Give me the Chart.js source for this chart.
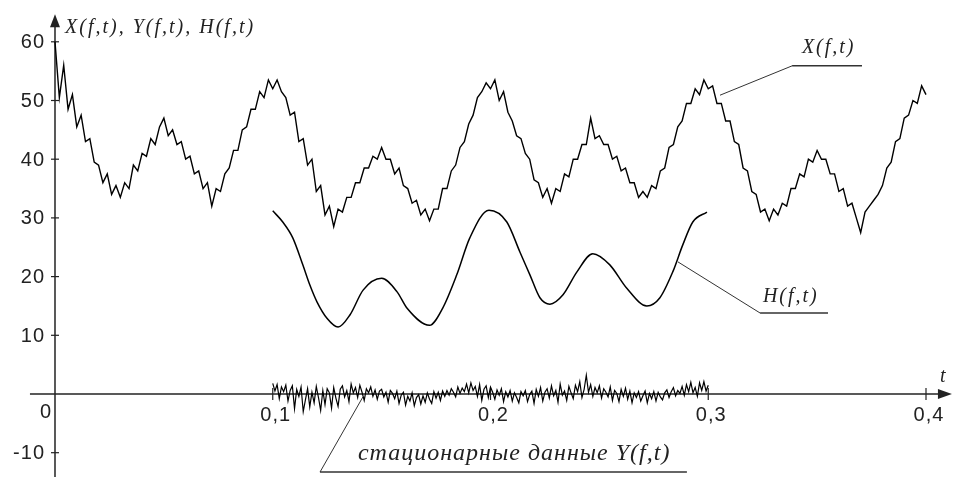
<!DOCTYPE html>
<html>
<head>
<meta charset="utf-8">
<script src="https://cdn.jsdelivr.net/npm/chart.js@4.4.1/dist/chart.umd.min.js"></script>
<style>
  html, body { margin: 0; padding: 0; background: #fff; overflow: hidden; }
</style>
</head>
<body>
<canvas id="chart" width="953" height="477"></canvas>
<script>
// sampled signal X(f,t), one value every 0.002 starting at t = 0
const xStart = 0, xStep = 0.002;
const xValues = [
  60, 50.5, 56, 48.5, 51, 45.5, 47.5, 43, 43.5, 39.5,
  39, 36, 37.5, 34, 35.5, 33.5, 36, 35, 39, 38,
  41, 40.5, 43.5, 42.5, 45.5, 47, 44, 45, 42.5, 43,
  40, 40.5, 37.5, 38, 35, 36, 32, 35, 34.5, 37.5,
  38.5, 41.5, 41.5, 45, 45.5, 48.5, 48.5, 51.5, 50.5, 53.5,
  52, 53.5, 51.5, 50.5, 47.5, 48, 43, 43.5, 39, 40,
  34.5, 35.5, 30.5, 32, 28.5, 31.5, 31, 33.5, 33.5, 36,
  36, 38.5, 38.5, 40.5, 40, 42, 40, 40, 37.5, 38.5,
  35.5, 35, 32.5, 33, 30.5, 31.5, 29.5, 31.5, 31.5, 35,
  35, 38, 39, 42, 43, 46, 47.5, 50.5, 51.5, 53,
  52, 53.5, 50, 51.5, 48, 46.5, 44, 43.5, 41, 40,
  36.5, 36, 33.5, 35, 32.5, 35, 34.5, 37.5, 37, 40,
  40, 42.5, 42.5, 47, 43.5, 44, 42.5, 42.5, 40, 40.5,
  38, 38.5, 36, 36, 33.5, 34.5, 33.5, 35.5, 35, 38,
  38.5, 42, 42.5, 45.5, 46.5, 49.5, 49.5, 52, 51, 53.5,
  52, 52.5, 49.5, 49.5, 46.5, 46.5, 43, 42.5, 38.5, 38,
  34.5, 34, 31, 31.5, 29.5, 31.5, 30.5, 32.5, 32, 35,
  35, 37.5, 37, 40, 39.5, 41.5, 40, 40, 37.5, 37.5,
  34.5, 35, 32, 32.5, 30, 27.5, 31, 32, 33, 34,
  35.5, 38.5, 39.5, 43, 43.5, 47, 47.5, 50, 49.5, 52.5,
  51
];

// stationary part Y(f,t), one value every 0.001 from t = 0.1 to 0.3
const yStart = 0.1, yStep = 0.001;
const yValues = [
  1.8, 0.5, 1.6, -0.8, 1.2, 0.4, 1.5, -1.2, 0.6, 1.4,
  -2.5, 0.8, -0.4, 1.2, -3, -1, 0.9, -2.2, 0.3, -1.5,
  1.3, -0.6, -2.8, 0.6, -1.8, 0.9, 0.2, -2.4, 1.1, -0.7,
  -2.1, 0.8, 1.4, -0.5, 0.6, -1.3, 1.7, 0.2, 1.1, -0.6,
  1.5, 0.3, -1.1, 0.9, 0.2, 1.2, -0.4, 0.7, -0.9, 0.5,
  0.8, -0.5, 0.3, -1.4, 0.6, 0.1, -0.8, 0.5, -1.6, -0.2,
  0.3, -1.9, -0.4, -1.2, 0.2, -2, -0.6, -0.1, -1.7, -0.3,
  -1.4, 0.2, -0.9, -1.6, 0.4, -0.7, 0.3, -1.1, 0.5, -0.4,
  0.6, -0.2, 0.9, 0.3, -0.5, 1.2, 0.1, 1.0, 0.4, 1.7,
  0.2, 1.9, 0.6, 1.3, -0.4, 1.6, -1.1, 0.8, 1.4, -0.6,
  1.2, 0.3, -0.9, 0.7, -0.2, 0.9, -1.3, 0.4, -0.5, 0.6,
  -1.2, 0.2, -0.6, -1.5, 0.4, -0.3, 0.6, -1.3, -0.1, 0.5,
  -1.6, 0.8, -0.4, 1.1, -1.2, 0.3, 0.9, -0.7, 1.4, -0.3,
  0.6, -1.4, 1.7, -0.2, 0.5, -1.1, 1.3, 0.2, -0.8, 1.5,
  0.4, 2.1, -0.6, 0.8, 3.2, 0.3, 1.6, -0.4, 1.1, 0.2,
  1.4, -0.7, 0.9, 0.3, -0.5, 1.2, -1.1, 0.6, 0.1, -1.3,
  0.8, -0.4, 1, -0.9, 0.5, -1.5, 0.2, -0.6, 0.4, -1.2,
  -0.3, 0.5, -1.5, 0.1, -0.8, 0.4, -1.2, 0.3, -0.5, -1,
  0.2, 0.7, -0.6, 0.4, 1.1, -0.3, 0.6, 0.1, 1.3, -0.2,
  1.6, 0.4, 2, 0.2, 1.1, -0.4, 1.9, 0.6, 2.1, 0.5,
  1.5
];

// smooth trend H(f,t)
const hTimes = [
  0.100, 0.1046, 0.1092, 0.1138, 0.117, 0.1203, 0.1249, 0.130, 0.1355, 0.1415,
  0.150, 0.1571, 0.1617, 0.172, 0.178, 0.1845, 0.1905, 0.1993, 0.2075, 0.2135,
  0.2181, 0.2227, 0.2273, 0.2333, 0.2397, 0.247, 0.2548, 0.2626, 0.2718, 0.2778,
  0.2837, 0.2883, 0.2929, 0.2994
];
const hValues = [
  31.2, 29.3, 26.6, 22, 18.6, 15.7, 12.9, 11.4, 13.5, 17.7,
  19.7, 17.4, 14.6, 11.7, 14.6, 20.3, 26.6, 31.3, 29.3, 24.2,
  20.3, 16.4, 15.3, 16.9, 20.8, 23.9, 22, 18, 15, 16.4,
  20.8, 25.4, 29.3, 31
];

const xTicks = [0.1, 0.2, 0.3, 0.4];
const yTicks = [-10, 10, 20, 30, 40, 50, 60];

// callout labels: leader from the curve, elbow, end of underline (data coords)
const callouts = [
  { text: 'X(f,t)', pts: [[0.3054, 50.9], [0.3385, 55.9], [0.3706, 55.9]], at: [0.343, 58.1], size: 20 },
  { text: 'H(f,t)', pts: [[0.2861, 22.5], [0.3238, 13.8], [0.355, 13.8]], at: [0.3251, 15.7], size: 20 },
  { text: 'стационарные данные Y(f,t)', pts: [[0.1414, -0.5], [0.1217, -13.3], [0.2902, -13.3]], at: [0.1391, -11.2], size: 24 }
];

const toPoints = (vals, start, step) => vals.map((v, i) => ({ x: +(start + i * step).toFixed(4), y: v }));

const axesPlugin = {
  id: 'axes',
  beforeDatasetsDraw(chart) {
    const { ctx, scales: { x, y } } = chart;
    const x0 = x.getPixelForValue(0), y0 = y.getPixelForValue(0);
    ctx.save();
    ctx.strokeStyle = '#222';
    ctx.fillStyle = '#222';
    ctx.lineWidth = 1.5;

    // horizontal axis with arrow
    const xl = x.getPixelForValue(-0.0115), xr = x.getPixelForValue(0.4119);
    ctx.beginPath(); ctx.moveTo(xl, y0); ctx.lineTo(xr - 8, y0); ctx.stroke();
    ctx.beginPath(); ctx.moveTo(xr, y0); ctx.lineTo(xr - 14, y0 - 5); ctx.lineTo(xr - 14, y0 + 5); ctx.closePath(); ctx.fill();

    // vertical axis with arrow
    const yt = y.getPixelForValue(64.7), yb = y.bottom;
    ctx.beginPath(); ctx.moveTo(x0, yb); ctx.lineTo(x0, yt + 8); ctx.stroke();
    ctx.beginPath(); ctx.moveTo(x0, yt); ctx.lineTo(x0 - 5, yt + 13); ctx.lineTo(x0 + 5, yt + 13); ctx.closePath(); ctx.fill();

    ctx.lineWidth = 1.2;
    xTicks.forEach(v => {
      const p = x.getPixelForValue(v);
      ctx.beginPath(); ctx.moveTo(p, y0 - 6); ctx.lineTo(p, y0 + 6); ctx.stroke();
    });
    yTicks.forEach(v => {
      const p = y.getPixelForValue(v);
      ctx.beginPath(); ctx.moveTo(x0 - 4, p); ctx.lineTo(x0 + 4, p); ctx.stroke();
    });
    ctx.restore();
  },
  afterDatasetsDraw(chart) {
    const { ctx, scales: { x, y } } = chart;
    const x0 = x.getPixelForValue(0), y0 = y.getPixelForValue(0);
    ctx.save();
    ctx.fillStyle = '#222';

    // tick labels
    ctx.font = "20px 'Liberation Sans'";
    ctx.letterSpacing = '1px';
    ctx.textAlign = 'center';
    ctx.textBaseline = 'top';
    xTicks.forEach(v => {
      ctx.fillText(v.toFixed(1).replace('.', ','), x.getPixelForValue(v) + 3, y0 + 11);
    });
    ctx.textAlign = 'right';
    ctx.textBaseline = 'middle';
    yTicks.forEach(v => ctx.fillText(String(v), x0 - 10, y.getPixelForValue(v) + 1));
    ctx.textAlign = 'center';
    ctx.textBaseline = 'alphabetic';
    ctx.fillText('0', x.getPixelForValue(-0.0041), y.getPixelForValue(-4.1));

    // axis names
    ctx.textAlign = 'left';
    ctx.font = "italic 20px 'Liberation Serif'";
    ctx.letterSpacing = '2px';
    ctx.fillText('X(f,t), Y(f,t), H(f,t)', x.getPixelForValue(0.0046), y.getPixelForValue(61.5));
    ctx.fillText('t', x.getPixelForValue(0.4064), y.getPixelForValue(2.0));

    // callouts
    callouts.forEach(c => {
      const p = c.pts.map(([a, b]) => [x.getPixelForValue(a), y.getPixelForValue(b)]);
      ctx.strokeStyle = '#333';
      ctx.lineWidth = 1;
      ctx.beginPath(); ctx.moveTo(p[0][0], p[0][1]); ctx.lineTo(p[1][0], p[1][1]); ctx.stroke();
      ctx.lineWidth = 1.5;
      ctx.beginPath(); ctx.moveTo(p[1][0], p[1][1]); ctx.lineTo(p[2][0], p[2][1]); ctx.stroke();
      ctx.font = `italic ${c.size}px 'Liberation Serif'`;
      ctx.letterSpacing = c.size > 20 ? '1px' : '2px';
      ctx.fillText(c.text, x.getPixelForValue(c.at[0]), y.getPixelForValue(c.at[1]));
    });
    ctx.restore();
  }
};

new Chart(document.getElementById('chart').getContext('2d'), {
  type: 'line',
  data: {
    datasets: [
      { label: 'X(f,t)', data: toPoints(xValues, xStart, xStep), borderColor: '#000', borderWidth: 1.4, pointRadius: 0, tension: 0 },
      { label: 'H(f,t)', data: hTimes.map((t, i) => ({ x: t, y: hValues[i] })), borderColor: '#000', borderWidth: 1.5, pointRadius: 0, tension: 0.4, cubicInterpolationMode: 'monotone' },
      { label: 'Y(f,t)', data: toPoints(yValues, yStart, yStep), borderColor: '#000', borderWidth: 1.2, pointRadius: 0, tension: 0 }
    ]
  },
  options: {
    responsive: false,
    devicePixelRatio: 1,
    animation: false,
    layout: { padding: 0 },
    plugins: { legend: { display: false }, tooltip: { enabled: false } },
    scales: {
      x: { type: 'linear', min: -0.025258, max: 0.4124, display: false },
      y: { type: 'linear', min: -14.14, max: 67.12, display: false }
    }
  },
  plugins: [axesPlugin]
});
</script>
</body>
</html>
